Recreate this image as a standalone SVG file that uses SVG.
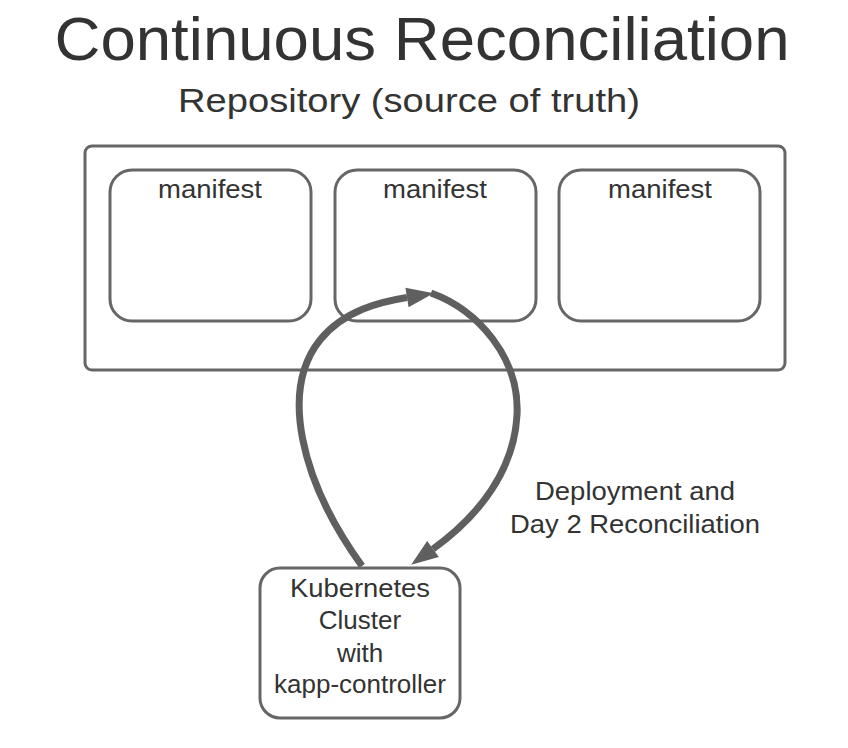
<svg xmlns="http://www.w3.org/2000/svg" width="848" height="748" viewBox="0 0 848 748">
<style>
text{font-family:"Liberation Sans",Arial,sans-serif;fill:#333;text-anchor:middle}
.box{fill:#fff;stroke:#666;stroke-width:3}
.loop{fill:none;stroke:#5f5f5f;stroke-width:7}
.t{font-size:26px}
</style>
<defs>
<marker id="ah" markerUnits="userSpaceOnUse" orient="auto" markerWidth="30" markerHeight="24" refX="0" refY="10" overflow="visible">
<path d="M0,0 L27,10 L0,20 z" fill="#5f5f5f"/>
</marker>
</defs>
<rect width="848" height="748" fill="#fff"/>
<g id="title">
<text x="422" y="60" font-size="62" textLength="735" lengthAdjust="spacingAndGlyphs">Continuous Reconciliation</text>
</g>
<g id="repository">
<rect class="box" x="85" y="146" width="700" height="224" rx="7"/>
<text x="409" y="112" font-size="34" textLength="462" lengthAdjust="spacingAndGlyphs">Repository (source of truth)</text>
</g>
<g id="manifest1">
<rect class="box" x="110" y="170" width="201" height="151" rx="22"/>
<text class="t" x="210" y="198" textLength="104" lengthAdjust="spacingAndGlyphs">manifest</text>
</g>
<g id="manifest2">
<rect class="box" x="335" y="170" width="201" height="151" rx="22"/>
<text class="t" x="435" y="198" textLength="104" lengthAdjust="spacingAndGlyphs">manifest</text>
</g>
<g id="manifest3">
<rect class="box" x="559" y="170" width="201" height="151" rx="22"/>
<text class="t" x="660" y="198" textLength="104" lengthAdjust="spacingAndGlyphs">manifest</text>
</g>
<g id="connectors">
<path class="loop" d="M362,566 C300,480 280,390 320,340 C344,310 382,301.5 407,297.5" marker-end="url(#ah)"/>
<path class="loop" d="M431,293 C478,310 520,358 517,415 C514,470 480,515 433,549" marker-end="url(#ah)"/>
<text class="t" x="635" y="500" textLength="200" lengthAdjust="spacingAndGlyphs">Deployment and</text>
<text class="t" x="635" y="533" textLength="250" lengthAdjust="spacingAndGlyphs">Day 2 Reconciliation</text>
</g>
<g id="cluster">
<rect class="box" x="260" y="568" width="200" height="150" rx="20"/>
<text class="t" x="360" y="597" textLength="140" lengthAdjust="spacingAndGlyphs">Kubernetes</text>
<text class="t" x="360" y="629">Cluster</text>
<text class="t" x="360" y="662">with</text>
<text class="t" x="360" y="693">kapp-controller</text>
</g>
</svg>
